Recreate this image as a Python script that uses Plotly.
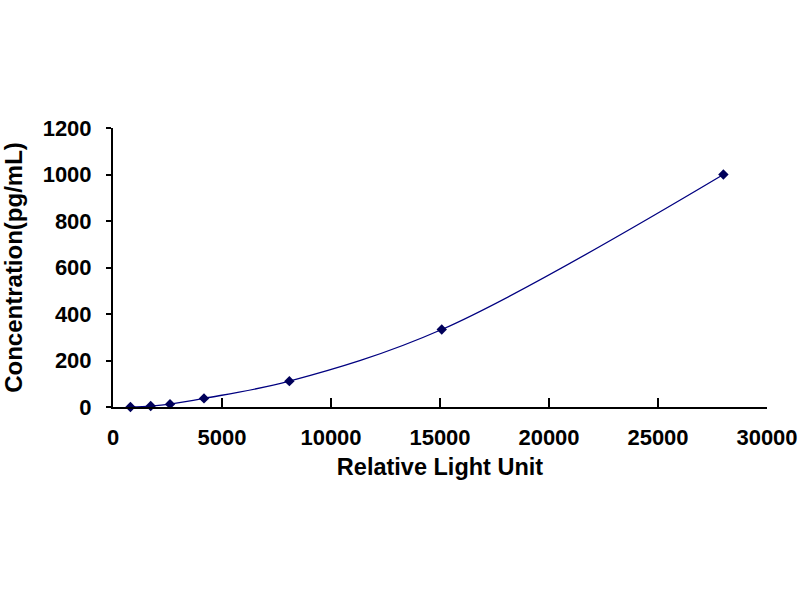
import plotly.graph_objects as go

# standard curve points
rlu = [800, 1730, 2615, 4174, 8090, 15080, 28000]
conc = [0, 4.12, 12.35, 37.04, 111.11, 333.33, 1000]

x_ticks = [0, 5000, 10000, 15000, 20000, 25000, 30000]
y_ticks = [0, 200, 400, 600, 800, 1000, 1200]

navy = '#000080'
font_name = 'Liberation Sans'

fig = go.Figure()

fig.add_trace(
    go.Scatter(
        x=rlu,
        y=conc,
        mode='lines+markers',
        line=dict(color=navy, width=1.3, shape='spline'),
        marker=dict(symbol='diamond', size=8, color='#00005a'),
        cliponaxis=False,
        showlegend=False
    )
)

fig.update_layout(
    width=800,
    height=600,
    paper_bgcolor='white',
    plot_bgcolor='white',
    margin=dict(l=113, r=33, t=128, b=193),
    font=dict(family=font_name, color='black', size=22, weight='bold'),
)

fig.update_xaxes(
    range=[0, 30000],
    tickvals=x_ticks,
    ticktext=[str(v) for v in x_ticks],
    ticks='inside',
    ticklen=9,
    tickwidth=2,
    tickcolor='black',
    showline=True,
    linecolor='black',
    linewidth=2,
    showgrid=False,
    zeroline=False,
    automargin=False,
    ticklabelstandoff=10,
    tickfont=dict(size=22, family=font_name, weight='bold'),
    title=dict(text='Relative Light Unit', standoff=9,
               font=dict(size=23.5, family=font_name, weight='bold')),
)

fig.update_yaxes(
    range=[0, 1200],
    tickvals=y_ticks,
    ticktext=[str(v) for v in y_ticks],
    ticks='outside',
    ticklen=5,
    tickwidth=2,
    tickcolor='black',
    showline=True,
    linecolor='black',
    linewidth=2,
    showgrid=False,
    zeroline=False,
    automargin=False,
    ticklabelstandoff=10,
    tickfont=dict(size=22, family=font_name, weight='bold'),
    title=dict(text='Concentration(pg/mL)', standoff=18,
               font=dict(size=24, family=font_name, weight='bold')),
)

# drop the default page margin so the 800x600 figure fills the window
fig.write_html('out.html',
               config={'displayModeBar': False},
               post_script="document.body.style.margin='0';"
                           "document.body.style.overflow='hidden';")
